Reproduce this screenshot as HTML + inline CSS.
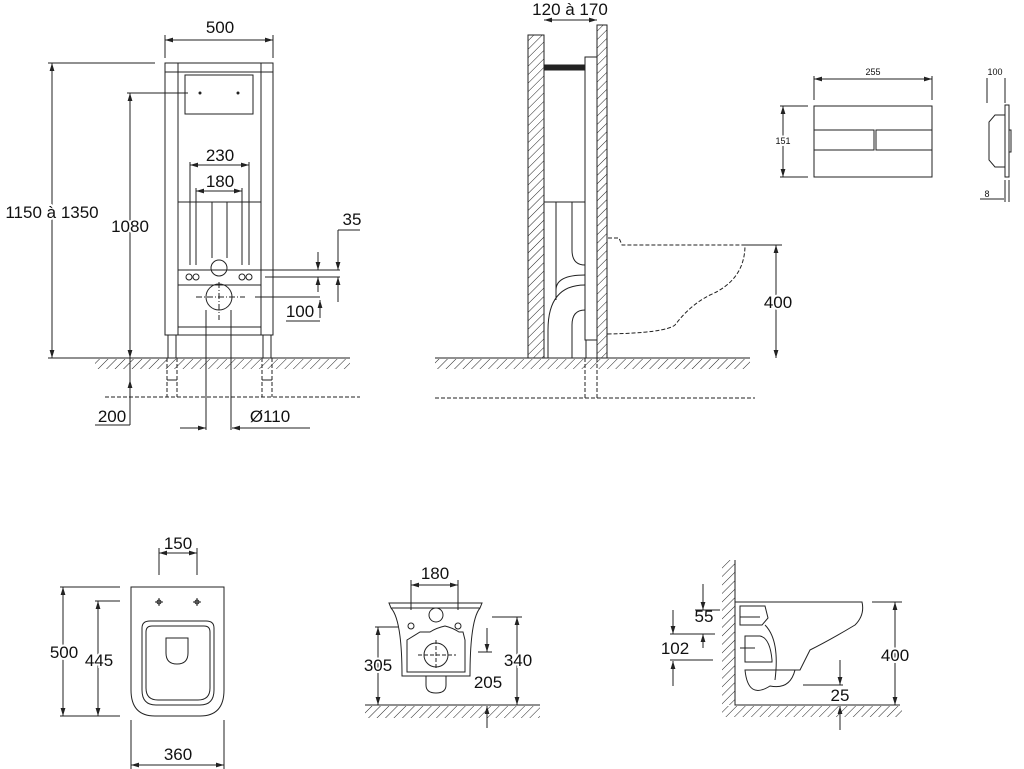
<!DOCTYPE html>
<html><head><meta charset="utf-8"><style>
html,body{margin:0;padding:0;background:#fff}
svg{display:block}
text{font-family:"Liberation Sans",sans-serif;font-size:17px;fill:#111;stroke:none}
.s{font-size:9px}
.w{paint-order:stroke;stroke:#fff;stroke-width:4px}
</style></head><body>
<svg width="1024" height="769" viewBox="0 0 1024 769" fill="none" stroke="#222" stroke-width="1">
<defs>
<pattern id="h" width="6" height="6" patternUnits="userSpaceOnUse" patternTransform="rotate(45)">
<line x1="0" y1="0" x2="0" y2="6" stroke="#222" stroke-width="1"/></pattern>
<marker id="a" viewBox="0 0 10 10" refX="10" refY="5" markerWidth="8" markerHeight="8" orient="auto-start-reverse"><path d="M0,2 L10,5 L0,8 z" fill="#222" stroke="none"/></marker>
</defs>

<!-- ===== Frame front view ===== -->
<rect x="95" y="359" width="255" height="10" fill="url(#h)" stroke="none"/>
<line x1="95" y1="358" x2="350" y2="358"/>
<rect x="165" y="63" width="108" height="9"/>
<rect x="165" y="63" width="13" height="272"/>
<rect x="261" y="63" width="12" height="272"/>
<rect x="185" y="75" width="68" height="39"/>
<circle cx="200" cy="93" r="1" fill="#222"/><circle cx="238" cy="93" r="1" fill="#222"/>
<line x1="178" y1="202" x2="261" y2="202"/>
<line x1="190" y1="162" x2="190" y2="265"/><line x1="196" y1="188" x2="196" y2="265"/>
<line x1="212" y1="202" x2="212" y2="258"/><line x1="227" y1="202" x2="227" y2="258"/>
<line x1="242" y1="188" x2="242" y2="265"/><line x1="249" y1="162" x2="249" y2="265"/>
<rect x="178" y="270" width="83" height="15"/>
<circle cx="219" cy="268" r="8"/>
<circle cx="219" cy="297" r="13"/>
<circle cx="189" cy="277" r="3"/><circle cx="196" cy="277" r="3"/>
<circle cx="242" cy="277" r="3"/><circle cx="249" cy="277" r="3"/>
<line x1="196" y1="297" x2="245" y2="297" stroke-dasharray="6 2 1 2"/>
<line x1="219" y1="282" x2="219" y2="320" stroke-dasharray="6 2 1 2"/>
<line x1="206" y1="310" x2="206" y2="430"/><line x1="231" y1="310" x2="231" y2="430"/>
<rect x="178" y="327" width="83" height="8"/>
<rect x="168" y="335" width="8" height="23"/><rect x="263" y="335" width="8" height="23"/>
<g stroke-dasharray="4 2"><line x1="167" y1="358" x2="167" y2="397"/><line x1="177" y1="358" x2="177" y2="397"/>
<line x1="262" y1="358" x2="262" y2="397"/><line x1="272" y1="358" x2="272" y2="397"/>
<line x1="105" y1="397" x2="360" y2="397"/></g>
<line x1="167" y1="380" x2="177" y2="380"/><line x1="262" y1="380" x2="272" y2="380"/>
<!-- dims -->
<line x1="165" y1="35" x2="165" y2="58"/><line x1="273" y1="35" x2="273" y2="58"/>
<line x1="165" y1="40" x2="273" y2="40" marker-start="url(#a)" marker-end="url(#a)"/>
<text x="220" y="33" text-anchor="middle">500</text>
<line x1="48" y1="63" x2="155" y2="63"/><line x1="48" y1="358" x2="95" y2="358"/>
<line x1="52" y1="63" x2="52" y2="358" marker-start="url(#a)" marker-end="url(#a)"/>
<text x="52" y="218" text-anchor="middle" class="w">1150 à 1350</text>
<line x1="127" y1="93" x2="188" y2="93"/>
<line x1="130" y1="93" x2="130" y2="358" marker-start="url(#a)" marker-end="url(#a)"/>
<line x1="130" y1="358" x2="130" y2="425"/>
<line x1="130" y1="397" x2="130" y2="380" marker-end="url(#a)"/>
<text x="130" y="232" text-anchor="middle" class="w">1080</text>
<line x1="95" y1="425" x2="130" y2="425"/>
<text x="112" y="422" text-anchor="middle">200</text>
<line x1="190" y1="165" x2="249" y2="165" marker-start="url(#a)" marker-end="url(#a)"/>
<text x="220" y="161" text-anchor="middle">230</text>
<line x1="196" y1="191" x2="242" y2="191" marker-start="url(#a)" marker-end="url(#a)"/>
<text x="220" y="187" text-anchor="middle">180</text>
<line x1="180" y1="428" x2="206" y2="428" marker-end="url(#a)"/>
<line x1="310" y1="428" x2="232" y2="428" marker-end="url(#a)"/>
<text x="270" y="422" text-anchor="middle">Ø110</text>
<line x1="228" y1="270" x2="340" y2="270"/><line x1="265" y1="277" x2="340" y2="277"/>
<line x1="318" y1="252" x2="318" y2="270" marker-end="url(#a)"/>
<line x1="318" y1="292" x2="318" y2="277" marker-end="url(#a)"/>
<line x1="360" y1="230" x2="338" y2="230"/>
<line x1="338" y1="230" x2="338" y2="270" marker-end="url(#a)"/>
<line x1="338" y1="302" x2="338" y2="277" marker-end="url(#a)"/>
<text x="352" y="225" text-anchor="middle">35</text>
<line x1="255" y1="297" x2="320" y2="297"/>
<line x1="320" y1="318" x2="320" y2="300" marker-end="url(#a)"/>
<line x1="286" y1="321" x2="320" y2="321"/>
<text x="300" y="317" text-anchor="middle">100</text>

<!-- ===== Side view ===== -->
<rect x="435" y="359" width="315" height="10" fill="url(#h)" stroke="none"/>
<line x1="435" y1="358" x2="750" y2="358"/>
<rect x="528" y="35" width="16" height="323" fill="url(#h)"/>
<rect x="597" y="25" width="10" height="333" fill="url(#h)"/>
<rect x="585" y="57" width="12" height="283"/>
<rect x="586" y="340" width="11" height="18"/>
<rect x="545" y="65" width="40" height="5" fill="#222"/>
<line x1="544" y1="202" x2="585" y2="202"/>
<path d="M556,202 V300 M572,202 V250 Q572,265 585,265 M556,290 Q556,275 585,275 M548,358 V330 Q548,285 585,285 M572,358 V325 Q572,310 585,310 M544,358 V202"/>
<g stroke-dasharray="4 2"><line x1="585" y1="358" x2="585" y2="400"/><line x1="597" y1="358" x2="597" y2="400"/>
<line x1="435" y1="398" x2="755" y2="398"/>
<path d="M608,238 H619 L622,245 H745 Q745,280 710,295 Q690,305 675,325 Q665,333 607,334"/></g>
<line x1="544" y1="20" x2="597" y2="20" marker-start="url(#a)" marker-end="url(#a)"/>
<text x="570" y="15" text-anchor="middle">120 à 170</text>
<line x1="745" y1="245" x2="782" y2="245"/>
<line x1="776" y1="245" x2="776" y2="358" marker-start="url(#a)" marker-end="url(#a)"/>
<text x="778" y="308" text-anchor="middle" class="w">400</text>

<!-- ===== Flush plate ===== -->
<rect x="814" y="106" width="118" height="71"/>
<rect x="814" y="130" width="60" height="20"/><rect x="876" y="130" width="56" height="20"/>
<line x1="814" y1="79" x2="932" y2="79" marker-start="url(#a)" marker-end="url(#a)"/>
<line x1="814" y1="76" x2="814" y2="100"/><line x1="932" y1="76" x2="932" y2="100"/>
<text class="s" x="873" y="75" text-anchor="middle">255</text>
<line x1="780" y1="106" x2="808" y2="106"/><line x1="780" y1="177" x2="808" y2="177"/>
<line x1="783" y1="106" x2="783" y2="177" marker-start="url(#a)" marker-end="url(#a)"/>
<text class="s w" x="783" y="144" text-anchor="middle">151</text>
<rect x="1005" y="105" width="4" height="72"/>
<path d="M1005,115 H995 L989,122 V160 L995,167 H1005"/>
<rect x="1009" y="130" width="2" height="22"/>
<line x1="987" y1="78" x2="987" y2="103"/><line x1="1005" y1="78" x2="1005" y2="103"/>
<text class="s" x="995" y="75" text-anchor="middle">100</text>
<line x1="1005" y1="180" x2="1005" y2="202"/><line x1="1009" y1="180" x2="1009" y2="202"/>
<line x1="980" y1="199" x2="1004" y2="199"/>
<text class="s" x="987" y="197" text-anchor="middle">8</text>

<!-- ===== Top view toilet ===== -->
<path d="M131,587 H224 V690 Q224,716 200,716 H155 Q131,716 131,690 Z"/>
<path d="M142,628 Q142,621 150,621 H206 Q214,621 214,628 V690 Q214,705 200,705 H156 Q142,705 142,690 Z"/>
<path d="M146,632 Q146,626 152,626 H204 Q210,626 210,632 V688 Q210,700 198,700 H158 Q146,700 146,688 Z"/>
<path d="M166,638 H188 V653 Q188,664 177,664 Q166,664 166,653 Z"/>
<g><circle cx="159" cy="602" r="2"/><line x1="155" y1="602" x2="163" y2="602"/><line x1="159" y1="598" x2="159" y2="606"/>
<circle cx="197" cy="602" r="2"/><line x1="193" y1="602" x2="201" y2="602"/><line x1="197" y1="598" x2="197" y2="606"/></g>
<line x1="159" y1="548" x2="159" y2="575"/><line x1="197" y1="548" x2="197" y2="575"/>
<line x1="159" y1="553" x2="197" y2="553" marker-start="url(#a)" marker-end="url(#a)"/>
<text x="178" y="549" text-anchor="middle">150</text>
<line x1="60" y1="587" x2="120" y2="587"/><line x1="60" y1="716" x2="120" y2="716"/><line x1="95" y1="601" x2="120" y2="601"/>
<line x1="63" y1="587" x2="63" y2="716" marker-start="url(#a)" marker-end="url(#a)"/>
<line x1="98" y1="601" x2="98" y2="716" marker-start="url(#a)" marker-end="url(#a)"/>
<text x="64" y="658" text-anchor="middle" class="w">500</text>
<text x="99" y="666" text-anchor="middle" class="w">445</text>
<line x1="131" y1="720" x2="131" y2="769"/><line x1="224" y1="720" x2="224" y2="769"/>
<line x1="131" y1="765" x2="224" y2="765" marker-start="url(#a)" marker-end="url(#a)"/>
<text x="178" y="760" text-anchor="middle">360</text>

<!-- ===== Front view toilet ===== -->
<rect x="365" y="706" width="175" height="12" fill="url(#h)" stroke="none"/>
<line x1="365" y1="705" x2="540" y2="705"/>
<path d="M389,603 H482 L480,608 Q470,620 470,676 H402 Q402,620 391,608 Z"/>
<line x1="391" y1="608" x2="480" y2="608"/>
<path d="M407,640 L420,632 H430 Q436,628 445,626 Q453,628 459,632 H463 L465,640 V672 H407 Z"/>
<line x1="410" y1="672" x2="462" y2="672"/>
<circle cx="436" cy="615" r="7"/><circle cx="436" cy="655" r="12"/>
<path d="M426,676 V685 Q426,693 436,693 Q446,693 446,685 V676"/>
<circle cx="411" cy="626" r="3"/><circle cx="458" cy="626" r="3"/>
<line x1="418" y1="655" x2="456" y2="655" stroke-dasharray="4 2"/>
<line x1="436" y1="640" x2="436" y2="670" stroke-dasharray="4 2"/>
<line x1="411" y1="580" x2="411" y2="610"/><line x1="458" y1="580" x2="458" y2="610"/>
<line x1="411" y1="585" x2="458" y2="585" marker-start="url(#a)" marker-end="url(#a)"/>
<text x="435" y="579" text-anchor="middle">180</text>
<line x1="375" y1="627" x2="398" y2="627"/>
<line x1="378" y1="627" x2="378" y2="705" marker-start="url(#a)" marker-end="url(#a)"/>
<text x="378" y="671" text-anchor="middle" class="w">305</text>
<line x1="492" y1="617" x2="522" y2="617"/>
<line x1="517" y1="617" x2="517" y2="705" marker-start="url(#a)" marker-end="url(#a)"/>
<text x="518" y="666" text-anchor="middle" class="w">340</text>
<line x1="478" y1="652" x2="492" y2="652"/>
<line x1="487" y1="628" x2="487" y2="652" marker-end="url(#a)"/>
<line x1="487" y1="728" x2="487" y2="706" marker-end="url(#a)"/>
<text x="488" y="688" text-anchor="middle">205</text>

<!-- ===== Side view toilet ===== -->
<rect x="722" y="560" width="13" height="145" fill="url(#h)" stroke="none"/>
<rect x="722" y="706" width="180" height="11" fill="url(#h)" stroke="none"/>
<path d="M735,560 V705 H900"/>
<path d="M735,602 H862 Q865,615 855,625 Q830,640 810,650 L800,670 H745 Q748,700 770,686 Q790,690 795,670"/>
<path d="M740,606 H765 L768,618 L762,625 H740 Z"/>
<path d="M745,636 H760 Q770,638 772,660 V662 H745 Z"/>
<path d="M765,625 Q780,640 775,680 M748,670 H800"/>
<line x1="740" y1="617" x2="760" y2="617"/><line x1="740" y1="648" x2="755" y2="648"/>
<line x1="872" y1="602" x2="902" y2="602"/>
<line x1="895" y1="602" x2="895" y2="705" marker-start="url(#a)" marker-end="url(#a)"/>
<text x="895" y="661" text-anchor="middle" class="w">400</text>
<line x1="703" y1="584" x2="703" y2="610" marker-end="url(#a)"/>
<line x1="703" y1="648" x2="703" y2="634" marker-end="url(#a)"/>
<line x1="695" y1="610" x2="720" y2="610"/><line x1="670" y1="634" x2="715" y2="634"/>
<text x="704" y="622" text-anchor="middle">55</text>
<line x1="673" y1="610" x2="673" y2="634" marker-end="url(#a)"/>
<line x1="673" y1="686" x2="673" y2="661" marker-end="url(#a)"/>
<line x1="670" y1="660" x2="713" y2="660"/>
<text x="675" y="654" text-anchor="middle">102</text>
<line x1="803" y1="685" x2="843" y2="685"/>
<line x1="840" y1="660" x2="840" y2="685" marker-end="url(#a)"/>
<line x1="840" y1="730" x2="840" y2="706" marker-end="url(#a)"/>
<text x="840" y="701" text-anchor="middle">25</text>
</svg>
</body></html>
